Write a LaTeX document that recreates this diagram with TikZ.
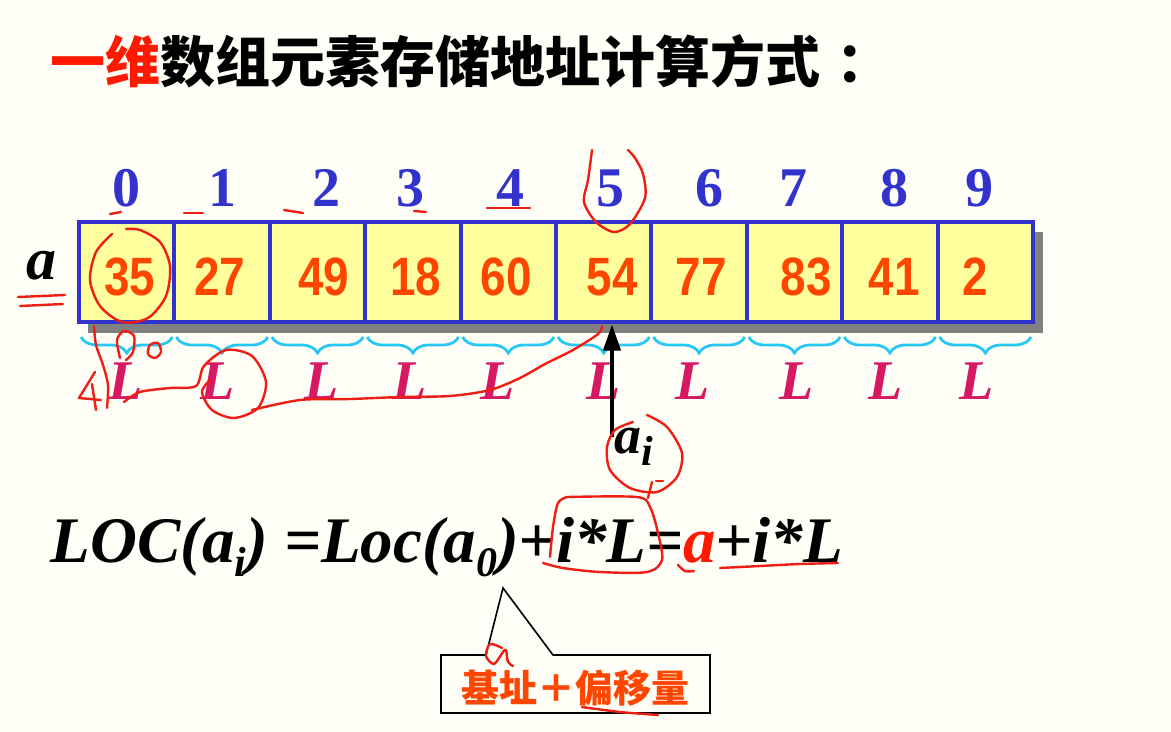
\documentclass[tikz,border=0pt]{standalone}
\usepackage{fontspec}
\setmainfont{Liberation Serif}
\newfontfamily\numfont[FakeStretch=0.85]{Liberation Sans}
\newfontfamily\cjk{Noto Sans CJK SC}
\usetikzlibrary{decorations.pathreplacing,arrows.meta}
\definecolor{bg}{RGB}{255,255,248}
\definecolor{arrblue}{RGB}{50,50,205}
\definecolor{cellyellow}{RGB}{255,255,158}
\definecolor{shadowgray}{RGB}{128,128,128}
\definecolor{valred}{RGB}{255,70,0}
\definecolor{titlered}{RGB}{255,25,0}
\definecolor{Lcol}{RGB}{215,25,100}
\definecolor{bracecyan}{RGB}{40,200,245}
\definecolor{handred}{RGB}{238,30,20}
\newcommand\mysub[1]{\raisebox{-0.22em}{\fontsize{21}{21}\selectfont #1}}
\tikzset{
  cell/.style={draw=arrblue, line width=2pt, fill=cellyellow, minimum width=47.7pt, minimum height=50pt, inner sep=0pt},
  idx/.style={text=arrblue, font=\fontsize{28}{30}\selectfont\bfseries, inner sep=0pt},
  val/.style={text=valred, font=\numfont\fontsize{27}{30}\selectfont\bfseries, inner sep=0pt},
  Llab/.style={text=Lcol, font=\fontsize{28}{30}\selectfont\bfseries\itshape, inner sep=0pt},
  bracestyle/.style={draw=bracecyan, line width=1.4pt, decorate, decoration={brace, amplitude=8pt, mirror}},
  hand/.style={draw=handred, line width=1.2pt, line cap=round, line join=round},
}
\begin{document}
\begin{tikzpicture}[x=0.5pt,y=-0.5pt]
\fill[bg] (0,0) rectangle (1171,732);
\useasboundingbox (0,0) rectangle (1171,732);
% title
\node[anchor=west, inner sep=0pt] (title) at (50,61) {\cjk\bfseries\fontsize{27.5}{30}\selectfont\textcolor{titlered}{一维}数组元素存储地址计算方式\kern0.3em：};
% shadow
\fill[shadowgray] (88,232) rectangle (1043,333);
% cells
\foreach \i in {0,...,9} \node[cell] (c\i) at ({79+95.4*\i+47.7},272.5) {};
% indices
\foreach \x/\t [count=\i from 0] in {126/0,222/1,326/2,410/3,510/4,610/5,709/6,793/7,894/8,979/9}
  \node[idx] (n\i) at (\x,188) {\t};
% values
\foreach \x/\t [count=\i from 0] in {130/35,220/27,324/49,416/18,506/60,612/54,701/77,806/83,894/41,975/2}
  \node[val] (v\i) at (\x,277) {\t};
% braces
\foreach \i in {0,...,9}
  \draw[bracestyle] ({79+95.4*\i+2},337) -- ({79+95.4*(\i+1)-2},337);
% L labels
\foreach \x [count=\i from 0] in {126,218,322,410,498,604,693,797,886,977}
  \node[Llab] (L\i) at (\x,381) {L};
% array name
\node[inner sep=0pt, font=\fontsize{30}{32}\selectfont\bfseries\itshape] (aname) at (41,266) {a};
% a_i and arrow
\node[inner sep=0pt, font=\fontsize{27}{30}\selectfont\bfseries\itshape] (ai) at (634,447) {a\mysub{i}};
\coordinate (arrbot) at (612,437);
\draw[line width=2pt, -{Triangle[length=13pt,width=8.5pt]}] (arrbot) -- (arrbot |- c5.south);
% formula
\node[anchor=base west, inner sep=0pt, font=\fontsize{32.5}{36}\selectfont\bfseries\itshape] (formula) at (50,562)
  {LOC(a\mysub{i}) =Loc(a\mysub{0})+i*L=\textcolor{titlered}{a}+i*L};
% callout
\draw[black, line width=0.8pt, fill=bg] (441,655) -- (486,655) -- (503,588) -- (553,655) -- (710,655) -- (710,713) -- (441,713) -- cycle;
\node[inner sep=0pt, text=valred, font=\cjk\bfseries\fontsize{19}{20}\selectfont] (callout) at (575,688) {基址＋偏移量};
% ---- handwritten annotations ----
\draw[hand] plot[smooth] coordinates {(112,234)(96,252)(90,280)(100,306)(122,322)(148,318)(166,296)(170,266)(160,242)(140,230)(126,229)};
\draw[hand] plot[smooth] coordinates {(592,150)(588,180)(584,202)(596,222)(614,232)(630,224)(645,198)(643,174)(635,158)(628,150)};
\draw[hand] plot[smooth] coordinates {(647,415)(667,427)(682,453)(677,477)(657,492)(630,488)(610,470)(607,447)(615,430)(633,422)};
\draw[hand] (652,482) -- (648,498);
\draw[hand] (656,481) -- (663,481);
\draw[hand] plot[smooth] coordinates {(567,497)(637,497)(650,507)(658,533)(662,560)(647,572)(600,572)(563,568)(543,563)};
\draw[hand] plot[smooth] coordinates {(550,557)(553,527)(558,503)(567,497)};
\draw[hand] plot[smooth] coordinates {(678,565)(685,571)(694,571)};
\draw[hand] plot[smooth] coordinates {(720,568)(760,566)(800,564)(838,563)};
\draw[hand] (18,297) -- (65,295);
\draw[hand] (20,306) -- (63,304);
\draw[hand] (110,214) -- (121,212);
\draw[hand] (184,213) -- (203,213);
\draw[hand] (284,210) -- (303,213);
\draw[hand] (414,211) -- (426,212);
\draw[hand] (487,208) -- (530,208);
\draw[hand] plot[smooth] coordinates {(120,358)(117,340)(124,331)(134,336)(133,352)(126,360)};
\draw[hand] plot[smooth cycle] coordinates {(150,345)(158,343)(161,352)(155,358)(148,354)};
\draw[hand] plot[smooth] coordinates {(94,326)(96,345)(103,365)(108,385)(107,408)};
\draw[hand] (95,372) -- (79,398) -- (101,400) (92,384) -- (96,410);
\draw[hand] plot[smooth] coordinates {(124,402)(140,392)(170,388)(196,386)(204,366)(226,350)(252,356)(266,382)(258,408)(234,418)(212,410)(202,392)(210,380)};
\draw[hand] plot[smooth] coordinates {(252,410)(300,400)(350,399)(400,397)(450,396)(490,390)(520,378)(545,364)(573,350)(598,334)(602,326)};
\draw[hand] plot[smooth] coordinates {(502,648)(490,644)(486,656)(494,664)(503,652)(506,650)(508,662)(513,666)};
\draw[hand] plot[smooth] coordinates {(582,707)(620,712)(658,715)};
\end{tikzpicture}
\end{document}
